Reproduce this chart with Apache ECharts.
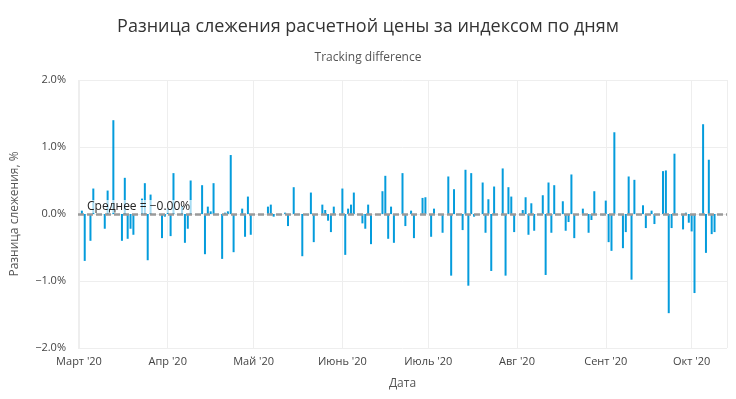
<!DOCTYPE html>
<html>
<head>
<meta charset="utf-8">
<script src="https://cdn.jsdelivr.net/npm/echarts@6/dist/echarts.min.js"></script>
<style>
  html, body { margin: 0; padding: 0; background: #fff; }
  #main { width: 736px; height: 399px; }
</style>
</head>
<body>
<div id="main"></div>
<script>
// даты торговых дней (2020)
const tradeDates = [
  '2020-03-02', '2020-03-03', '2020-03-05', '2020-03-06', '2020-03-10', '2020-03-11', '2020-03-13',
  '2020-03-16', '2020-03-17', '2020-03-18', '2020-03-19', '2020-03-20',
  '2020-03-23', '2020-03-24', '2020-03-25', '2020-03-26',
  '2020-03-30', '2020-03-31', '2020-04-01', '2020-04-02', '2020-04-03',
  '2020-04-06', '2020-04-07', '2020-04-08', '2020-04-09',
  '2020-04-13', '2020-04-14', '2020-04-15', '2020-04-16', '2020-04-17',
  '2020-04-20', '2020-04-21', '2020-04-22', '2020-04-23', '2020-04-24',
  '2020-04-27', '2020-04-28', '2020-04-29', '2020-04-30',
  '2020-05-06', '2020-05-07', '2020-05-08', '2020-05-12', '2020-05-13', '2020-05-15',
  '2020-05-18', '2020-05-20', '2020-05-21', '2020-05-22',
  '2020-05-25', '2020-05-26', '2020-05-27', '2020-05-28', '2020-05-29',
  '2020-06-01', '2020-06-02', '2020-06-03', '2020-06-04', '2020-06-05',
  '2020-06-08', '2020-06-09', '2020-06-10', '2020-06-11',
  '2020-06-15', '2020-06-16', '2020-06-17', '2020-06-18', '2020-06-19',
  '2020-06-22', '2020-06-23', '2020-06-25', '2020-06-26',
  '2020-06-29', '2020-06-30', '2020-07-02', '2020-07-03',
  '2020-07-06', '2020-07-08', '2020-07-09', '2020-07-10',
  '2020-07-13', '2020-07-14', '2020-07-15', '2020-07-16', '2020-07-17',
  '2020-07-20', '2020-07-21', '2020-07-22', '2020-07-23', '2020-07-24',
  '2020-07-27', '2020-07-28', '2020-07-29', '2020-07-30', '2020-07-31',
  '2020-08-03', '2020-08-04', '2020-08-05', '2020-08-06', '2020-08-07',
  '2020-08-10', '2020-08-11', '2020-08-12', '2020-08-13', '2020-08-14',
  '2020-08-17', '2020-08-18', '2020-08-19', '2020-08-20', '2020-08-21',
  '2020-08-24', '2020-08-26', '2020-08-27', '2020-08-28',
  '2020-08-31', '2020-09-01', '2020-09-02', '2020-09-03', '2020-09-04',
  '2020-09-07', '2020-09-08', '2020-09-09', '2020-09-10', '2020-09-11',
  '2020-09-14', '2020-09-15', '2020-09-17', '2020-09-18',
  '2020-09-21', '2020-09-22', '2020-09-23', '2020-09-24', '2020-09-25',
  '2020-09-28', '2020-09-29', '2020-09-30', '2020-10-01', '2020-10-02',
  '2020-10-05', '2020-10-06', '2020-10-07', '2020-10-08', '2020-10-09'
];

// разница слежения, %
const diffValues = [
  0.05, -0.70, -0.40, 0.38, -0.22, 0.35, 1.40,
  -0.40, 0.54, -0.37, -0.22, -0.31,
  0.23, 0.46, -0.69, 0.29,
  -0.36, -0.04, 0.08, -0.33, 0.61,
  0.12, -0.43, -0.22, 0.50,
  0.43, -0.60, 0.11, 0.04, 0.46,
  -0.67, 0.02, 0.04, 0.88, -0.57,
  0.08, -0.34, 0.26, -0.31,
  0.11, 0.14, -0.04, 0.02, -0.18, 0.40,
  -0.63, -0.02, 0.32, -0.42,
  0.14, 0.06, -0.10, -0.27, 0.11,
  0.38, -0.61, 0.08, 0.14, 0.32,
  -0.14, -0.22, 0.14, -0.45,
  0.34, 0.57, -0.37, 0.11, -0.43,
  0.61, -0.18, 0.05, -0.36,
  0.24, 0.25, -0.34, 0.08,
  -0.28, 0.56, -0.92, 0.37,
  -0.24, 0.66, -1.07, 0.61, -0.04,
  0.47, -0.28, 0.22, -0.85, 0.41,
  0.68, -0.92, 0.40, 0.26, -0.27,
  0.06, 0.25, -0.31, 0.16, -0.25,
  0.28, -0.91, 0.47, -0.28, 0.43,
  0.19, -0.25, -0.12, 0.59, -0.36,
  0.08, -0.28, -0.09, 0.34,
  -0.02, 0.20, -0.42, -0.55, 1.22,
  -0.51, -0.27, 0.56, -0.98, 0.51,
  0.13, -0.21, 0.05, -0.15,
  0.64, 0.65, -1.48, -0.21, 0.90,
  -0.23, 0.02, -0.13, -0.26, -1.18,
  1.34, -0.58, 0.81, -0.30, -0.27
];

const meanDiff = -0.002;
const monthNames = ['Янв', 'Фев', 'Март', 'Апр', 'Май', 'Июнь', 'Июль', 'Авг', 'Сент', 'Окт', 'Нояб', 'Дек'];

const fontFamily = '"Open Sans", "Noto Sans", sans-serif';
const minus = v => (v < 0 ? '\u2212' : '') + Math.abs(v).toFixed(1) + '%';

var myChart = echarts.init(document.getElementById('main'));
let option = {
  backgroundColor: '#fff',
  animation: false,
  title: {
    text: 'Разница слежения расчетной цены за индексом по дням',
    subtext: 'Tracking difference',
    left: 'center',
    top: 13,
    itemGap: 16,
    textStyle: { fontFamily: fontFamily, fontSize: 18, fontWeight: 'normal', color: '#333' },
    subtextStyle: { fontFamily: fontFamily, fontSize: 12, color: '#555' }
  },
  grid: {
    left: 78,
    right: 9,
    top: 80,
    bottom: 51
  },
  xAxis: {
    type: 'time',
    min: '2020-03-01',
    max: '2020-10-13',
    splitNumber: 8,
    minInterval: 28 * 86400000,
    maxInterval: 31 * 86400000,
    name: 'Дата',
    nameLocation: 'middle',
    nameGap: 30,
    nameTextStyle: { fontFamily: fontFamily, fontSize: 12, color: '#555' },
    axisLine: { show: false },
    axisTick: { show: false },
    axisLabel: {
      fontFamily: fontFamily,
      fontSize: 11,
      color: '#444',
      margin: 8,
      formatter: function (value) {
        let d = new Date(value);
        return monthNames[d.getMonth()] + " '" + String(d.getFullYear()).slice(2);
      }
    },
    splitLine: { show: true, lineStyle: { color: '#eee', width: 1 } }
  },
  yAxis: {
    type: 'value',
    min: -2,
    max: 2,
    interval: 1,
    name: 'Разница слежения, %',
    nameLocation: 'middle',
    nameGap: 57,
    nameTextStyle: { fontFamily: fontFamily, fontSize: 12, color: '#555' },
    axisLine: { show: false },
    axisTick: { show: false },
    axisLabel: { fontFamily: fontFamily, fontSize: 11, color: '#444', margin: 12, formatter: minus },
    splitLine: { lineStyle: { color: '#eee', width: 1 } }
  },
  series: [{
    type: 'bar',
    barWidth: 2,
    itemStyle: { color: '#049cdc' },
    data: tradeDates.map((d, i) => [d, diffValues[i]]),
    markLine: {
      silent: true,
      symbol: 'none',
      data: [{ yAxis: meanDiff }],
      lineStyle: { color: '#9a9a9a', type: [6, 3], width: 2.5 },
      label: {
        position: 'insideStartTop',
        distance: [7, 1],
        formatter: 'Среднее = \u22120.00%',
        fontFamily: fontFamily,
        fontSize: 12,
        color: '#222',
        backgroundColor: 'rgba(255,255,255,0.65)',
        padding: [1, 2, 0, 2]
      }
    }
  }]
};
myChart.setOption(option);
</script>
</body>
</html>
